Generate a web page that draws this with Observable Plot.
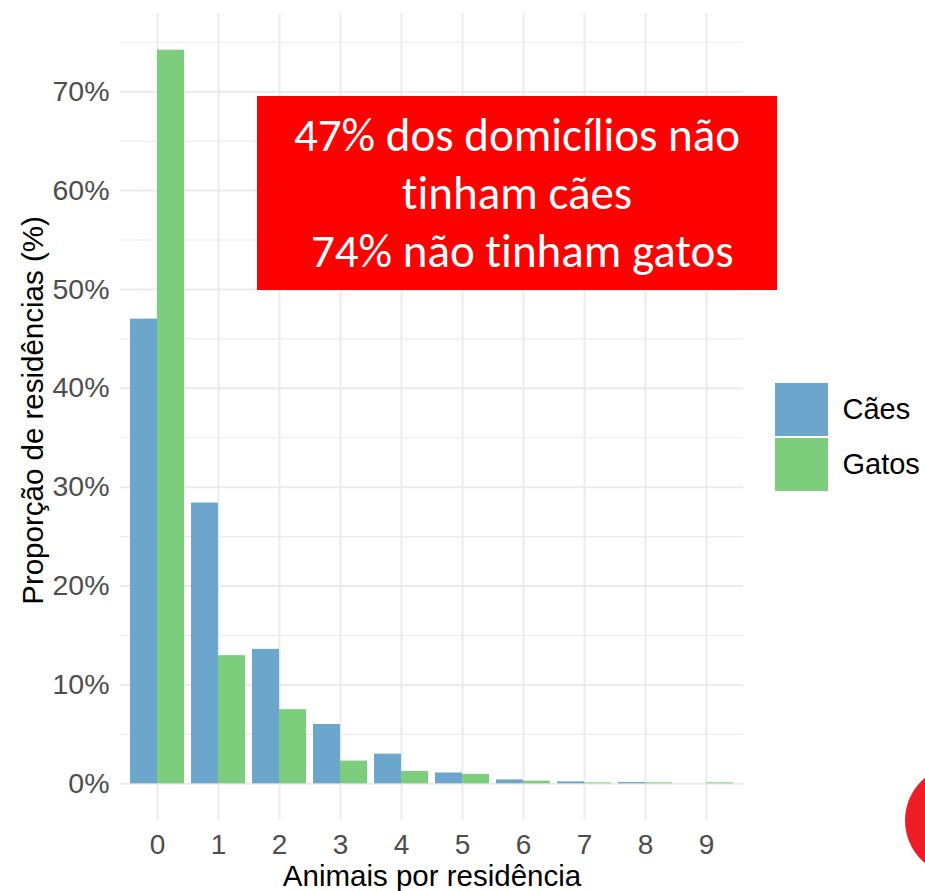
<!DOCTYPE html>
<html>
<head>
<meta charset="utf-8">
<script src="https://cdn.jsdelivr.net/npm/d3@7"></script>
<script src="https://cdn.jsdelivr.net/npm/@observablehq/plot@0.6"></script>
<style>
  body { margin: 0; background: #fff; }
  #wrap { position: relative; width: 925px; height: 891px; overflow: hidden; background: #fff; }
  #chart { position: absolute; left: 0; top: 0; }
  #note {
    position: absolute; left: 257px; top: 96px; width: 520px; height: 194px;
    background: #ff0000; color: #fff; box-sizing: border-box; padding-top: 10px;
    font-family: Calibri, Carlito, Lato, "Open Sans", sans-serif; font-size: 47px; line-height: 58px;
    text-align: center; white-space: pre; font-variant-ligatures: none; font-feature-settings: "liga" 0;
  }
  #legend { position: absolute; left: 775px; top: 383px; }
  #legend .lg-swatch { padding-bottom: 2px !important; }
  #logo { position: absolute; left: 905px; top: 765px; width: 111px; height: 111px; border-radius: 50%; background: #ee1d25; }
</style>
</head>
<body>
<div id="wrap">
  <div id="chart"></div>
  <div id="note"></div>
  <div id="legend"></div>
  <div id="logo"></div>
</div>
<script>
// ---- data ----
const categories = ["0", "1", "2", "3", "4", "5", "6", "7", "8", "9"];
const seriesNames = ["Cães", "Gatos"];
const seriesColors = ["#6CA6CD", "#7CCD7C"];
const caes  = [47.0, 28.4, 13.6, 6.0, 3.0, 1.1, 0.4, 0.2, 0.13, 0.0];
const gatos = [74.2, 12.96, 7.5, 2.3, 1.25, 0.95, 0.27, 0.1, 0.1, 0.1];
const yMajorTicks = [0, 10, 20, 30, 40, 50, 60, 70];
const yMinorTicks = [5, 15, 25, 35, 45, 55, 65, 75];
const xTitle = "Animais por residência";
const yTitle = "Proporção de residências (%)";
const noteLines = ["47% dos domicílios não", "tinham cães", " 74% não tinham gatos"];

// ---- table ----
const rows = categories.flatMap((c, i) => [
  {n: c, serie: seriesNames[0], v: caes[i]},
  {n: c, serie: seriesNames[1], v: gatos[i]}
]);

const W = 925, H = 891, mL = 120, mR = 182, mT = 13, mB = 71;
const font = '"Liberation Sans", Arial, Helvetica, sans-serif';
const xOpts = {type: "band", domain: categories, paddingInner: 0.115, paddingOuter: 0.164};
const bw = Plot.scale({x: {...xOpts, range: [mL, W - mR]}}).bandwidth;
const ymax = d3.max(rows, d => d.v);
const yDomain = [-0.05 * ymax, 1.05 * ymax];

const chart = Plot.plot({
  width: W, height: H,
  marginLeft: mL, marginRight: mR, marginTop: mT, marginBottom: mB,
  style: {fontFamily: font, fontSize: "28px", background: "transparent", overflow: "visible"},
  x: xOpts,
  y: {domain: yDomain},
  color: {domain: seriesNames, range: seriesColors},
  marks: [
    Plot.ruleY(yMinorTicks, {stroke: "#ebebeb", strokeWidth: 1.2}),
    Plot.ruleY(yMajorTicks, {stroke: "#ebebeb", strokeWidth: 2}),
    Plot.ruleX(categories, {stroke: "#ebebeb", strokeWidth: 2}),
    Plot.barY(rows.filter(d => d.serie === seriesNames[0]), {x: "n", y: "v", fill: "serie", insetRight: bw / 2}),
    Plot.barY(rows.filter(d => d.serie === seriesNames[1]), {x: "n", y: "v", fill: "serie", insetLeft: bw / 2}),
    Plot.axisX({tickSize: 0, tickPadding: 14, label: null, fontSize: 28, color: "#4d4d4d"}),
    Plot.axisY({ticks: yMajorTicks, tickFormat: d => d + "%", tickSize: 0, tickPadding: 11, label: null, fontSize: 28.5, color: "#4d4d4d"}),
    Plot.text([xTitle], {text: d => d, frameAnchor: "bottom", dy: 56.5, lineAnchor: "middle", textAnchor: "middle", fontSize: 29.5, fill: "#000"}),
    Plot.text([yTitle], {text: d => d, frameAnchor: "left", rotate: -90, dx: -87, dy: -6.5, lineAnchor: "middle", textAnchor: "middle", fontSize: 29.5, fill: "#000"})
  ]
});
document.getElementById("chart").appendChild(chart);

const legend = chart.legend("color", {
  legend: "swatches", columns: 1, swatchSize: 53, className: "lg",
  style: {fontSize: "29px", fontFamily: font, color: "#000", margin: "0"}
});
document.getElementById("legend").appendChild(legend);

document.getElementById("note").textContent = noteLines.join("\n");
</script>
</body>
</html>
